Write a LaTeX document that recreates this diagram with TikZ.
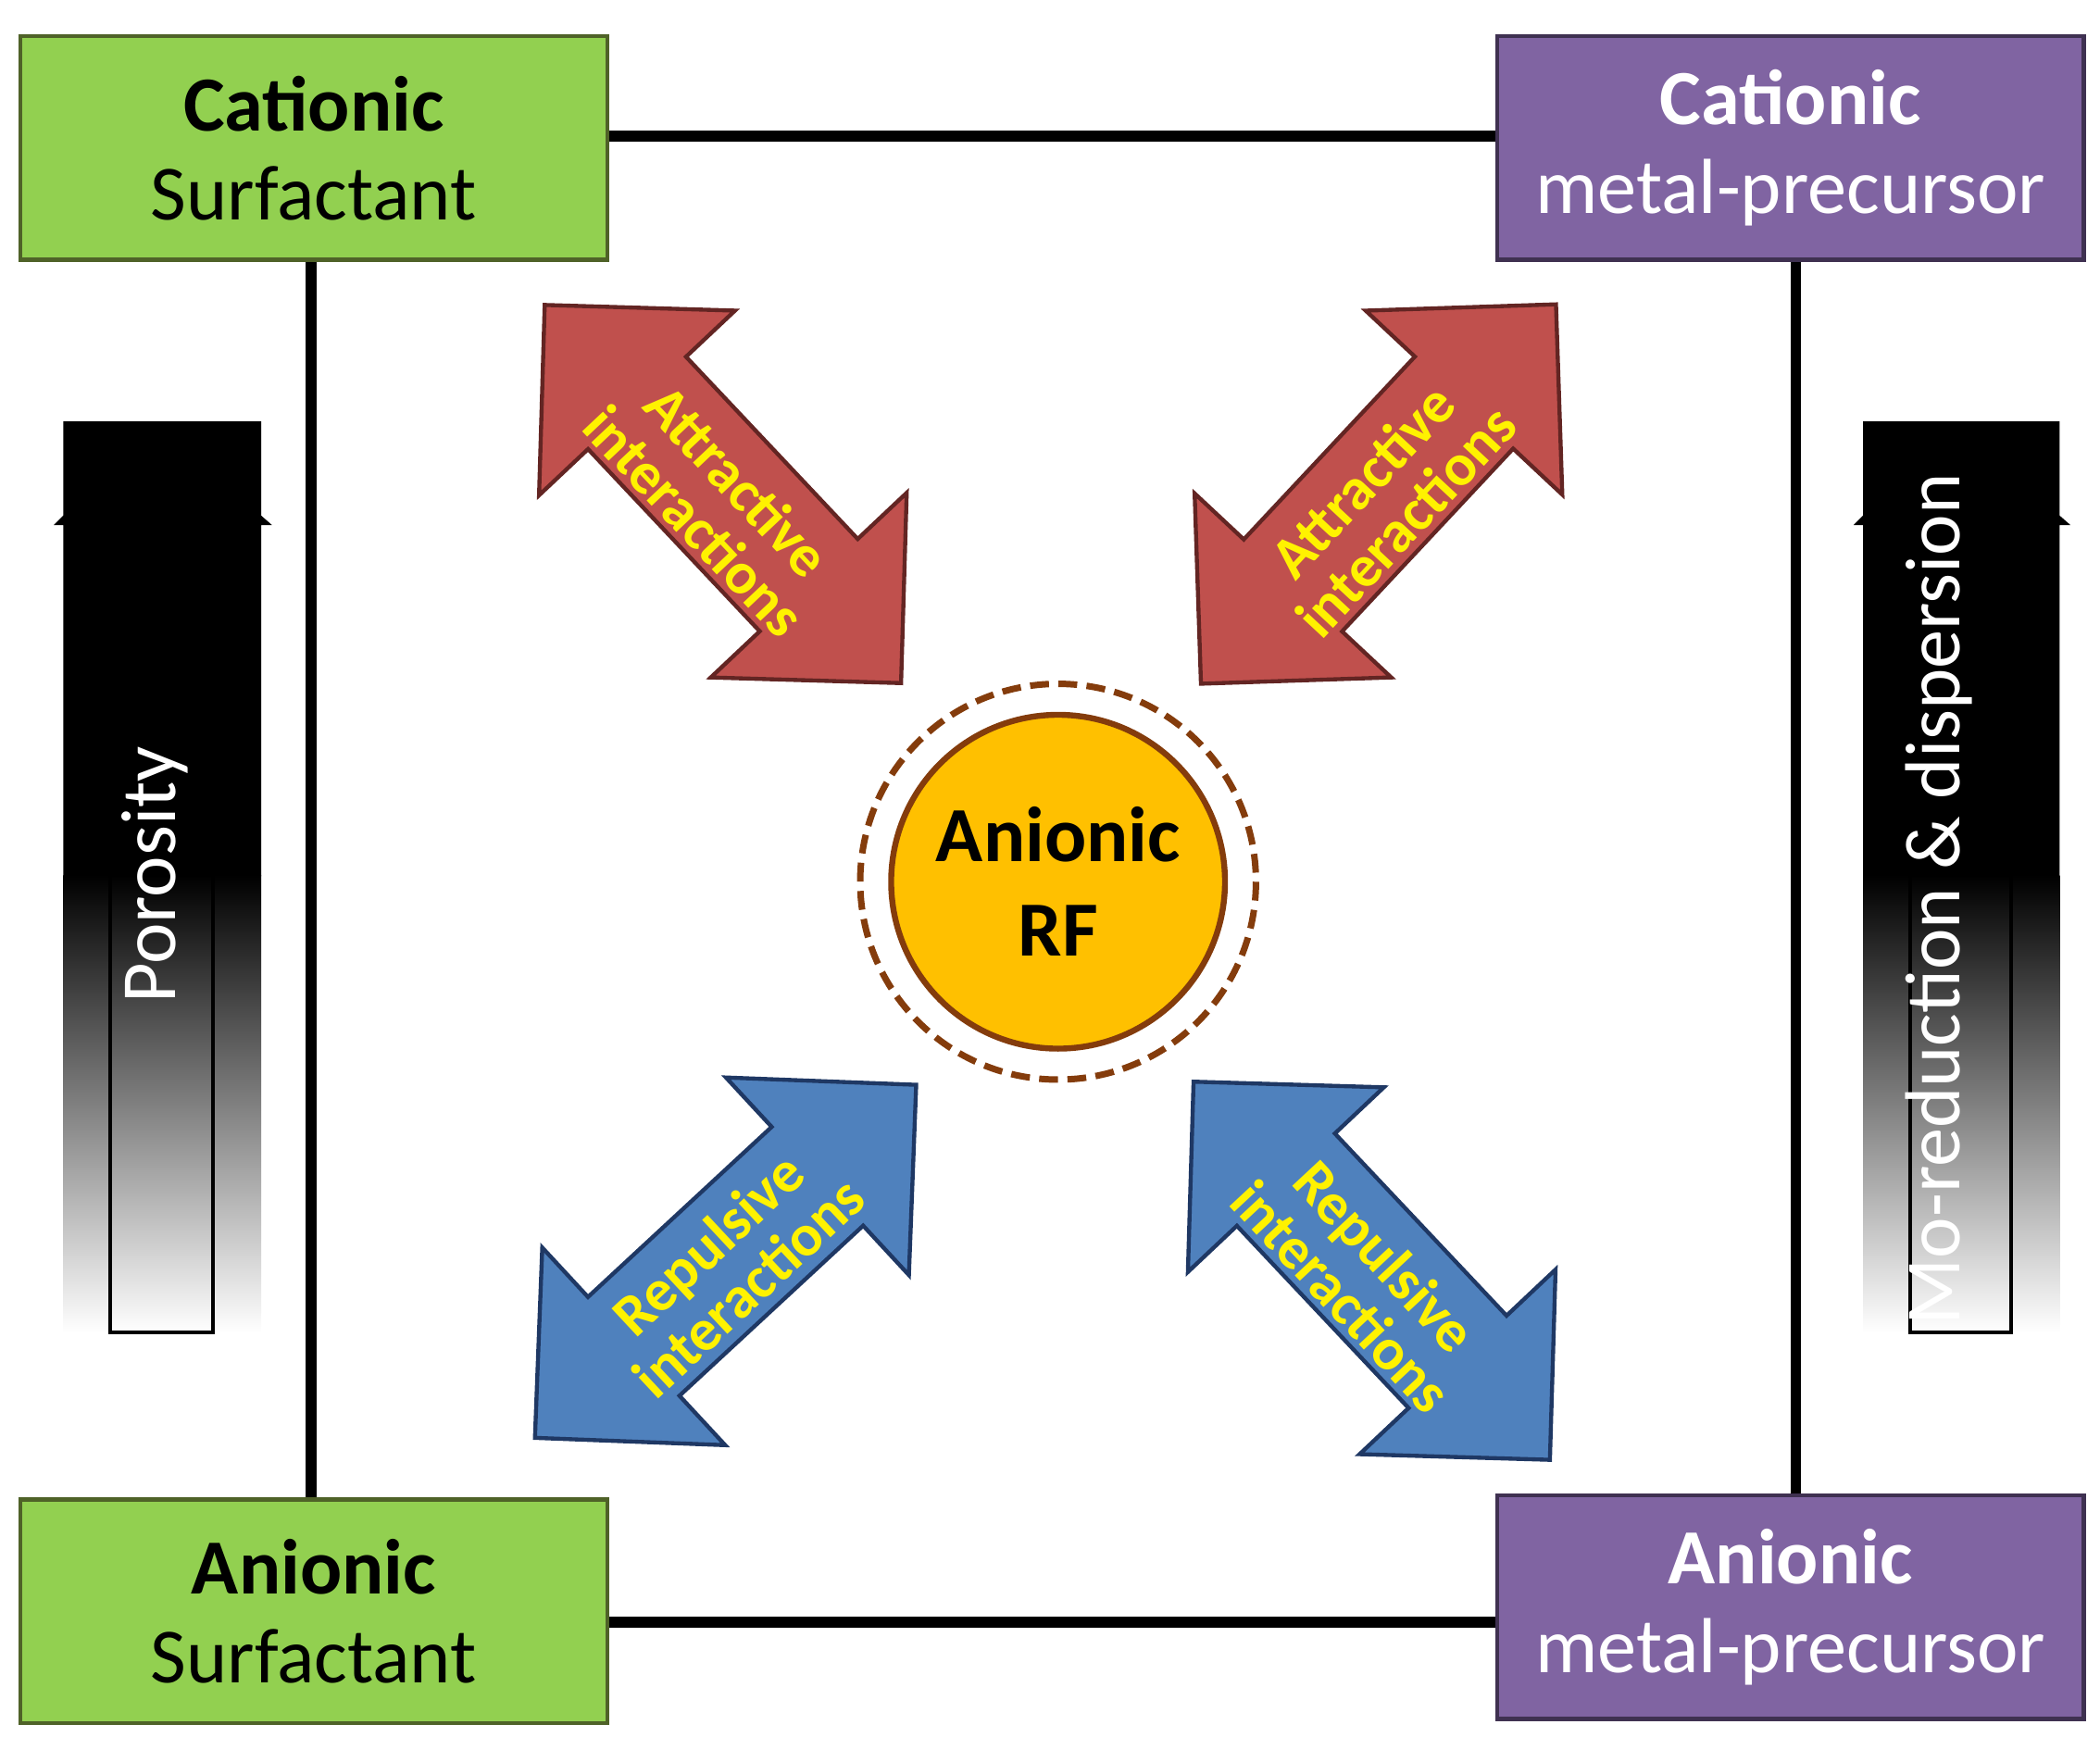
\documentclass[tikz,border=0pt]{standalone}
\usepackage{fontspec}
\setmainfont{Carlito}
\usepackage{tikz}
\definecolor{boxgreen}{RGB}{146,208,80}
\definecolor{greenline}{RGB}{79,98,40}
\definecolor{boxpurple}{RGB}{128,100,162}
\definecolor{purpleline}{RGB}{63,49,81}
\definecolor{arrred}{RGB}{192,80,77}
\definecolor{redline}{RGB}{99,37,35}
\definecolor{arrblue}{RGB}{79,129,189}
\definecolor{blueline}{RGB}{31,56,100}
\definecolor{rfgold}{RGB}{255,192,0}
\definecolor{rfbrown}{RGB}{132,60,12}
\tikzset{
  ionbox/.style={rectangle,minimum width=218pt,minimum height=83pt,inner xsep=0pt,line width=1.5pt,align=center,font=\fontsize{29}{33}\selectfont},
  link/.style={line width=4pt},
  forcetext/.style={text=yellow,font=\bfseries\fontsize{22}{22}\selectfont,align=center},
  bartext/.style={text=white,rotate=90,font=\fontsize{29}{33}\selectfont}
}
\newcommand{\dblarrow}[4]{%
  \begin{scope}[shift={#1},rotate=#2]
    \filldraw[fill=#3,draw=#4,line width=1.5pt] (-193,0) -- (-93,-100) -- (-93,-50) -- (93,-50) -- (93,-100) -- (193,0) -- (93,100) -- (93,50) -- (-93,50) -- (-93,100) -- cycle;
  \end{scope}}
\newcommand{\gradbar}[2]{%
  \fill [black] (#1,313) rectangle (#2,651) (#1,383) -- (#1-7,390) -- (#1,390) (#2,383) -- (#2+8,390) -- (#2,390);
  \shade [top color=black,bottom color=white] (#1,650) rectangle (#2,990);}
\begin{document}
\begin{tikzpicture}[x=0.5pt,y=0.5pt,yscale=-1,xscale=1]
\useasboundingbox (0,0) rectangle (1560,1290);

%Boxes
\node (catsurf) [ionbox,fill=boxgreen,draw=greenline] at (233,110) {\textbf{Cationic}\\Surfactant};
\node (catmetal) [ionbox,fill=boxpurple,draw=purpleline,text=white] at (1330,110) {\textbf{Cationic}\\metal-precursor};
\node (ansurf) [ionbox,fill=boxgreen,draw=greenline] at (233,1197) {\textbf{Anionic}\\Surfactant};
\node (anmetal) [ionbox,fill=boxpurple,draw=purpleline,text=white] at (1330,1194) {\textbf{Anionic}\\metal-precursor};

%Frame lines
\draw [link] ([yshift=-4.5pt]catsurf.east) -- ([yshift=-4.5pt]catsurf.east -| catmetal.west);
\draw [link] ([yshift=4pt]ansurf.east) -- ([yshift=4pt]ansurf.east -| anmetal.west);
\draw [link] ([xshift=-1pt]catsurf.south) -- ([xshift=-1pt]ansurf.north);
\draw [link] ([xshift=2pt]catmetal.south) -- ([xshift=2pt]anmetal.north);

%Gradient bars
\gradbar{47}{194}
\draw [line width=1.5pt] (82,650) rectangle (158,990);
\node (poros) [bartext] at (115,650) {Porosity};
\gradbar{1384}{1530}
\draw [line width=1.5pt] (1419,650) rectangle (1494,990);
\node (mored) [bartext] at (1440,668) {Mo-reduction \& dispersion};

%Centre
\draw [rfbrown,line width=2.4pt,dash pattern=on 7pt off 3.5pt] (786,655) circle (147);
\node (rf) [circle,minimum size=124pt,fill=rfgold,draw=rfbrown,line width=2.2pt,align=center,font=\bfseries\fontsize{29}{35}\selectfont] at (786,655) {Anionic\\RF};

%Double arrows
\dblarrow{(537,367)}{46.7}{arrred}{redline}
\dblarrow{(1024,367)}{133.1}{arrred}{redline}
\dblarrow{(539,937)}{-42.8}{arrblue}{blueline}
\dblarrow{(1019,944)}{46.7}{arrblue}{blueline}
\node [forcetext,rotate=-46.7] at (532,372) {Attractive\\interactions};
\node [forcetext,rotate=47] at (1028,372) {Attractive\\interactions};
\node [forcetext,rotate=43] at (541,940) {Repulsive\\interactions};
\node [forcetext,rotate=-47] at (1013,948) {Repulsive\\interactions};

\end{tikzpicture}
\end{document}
